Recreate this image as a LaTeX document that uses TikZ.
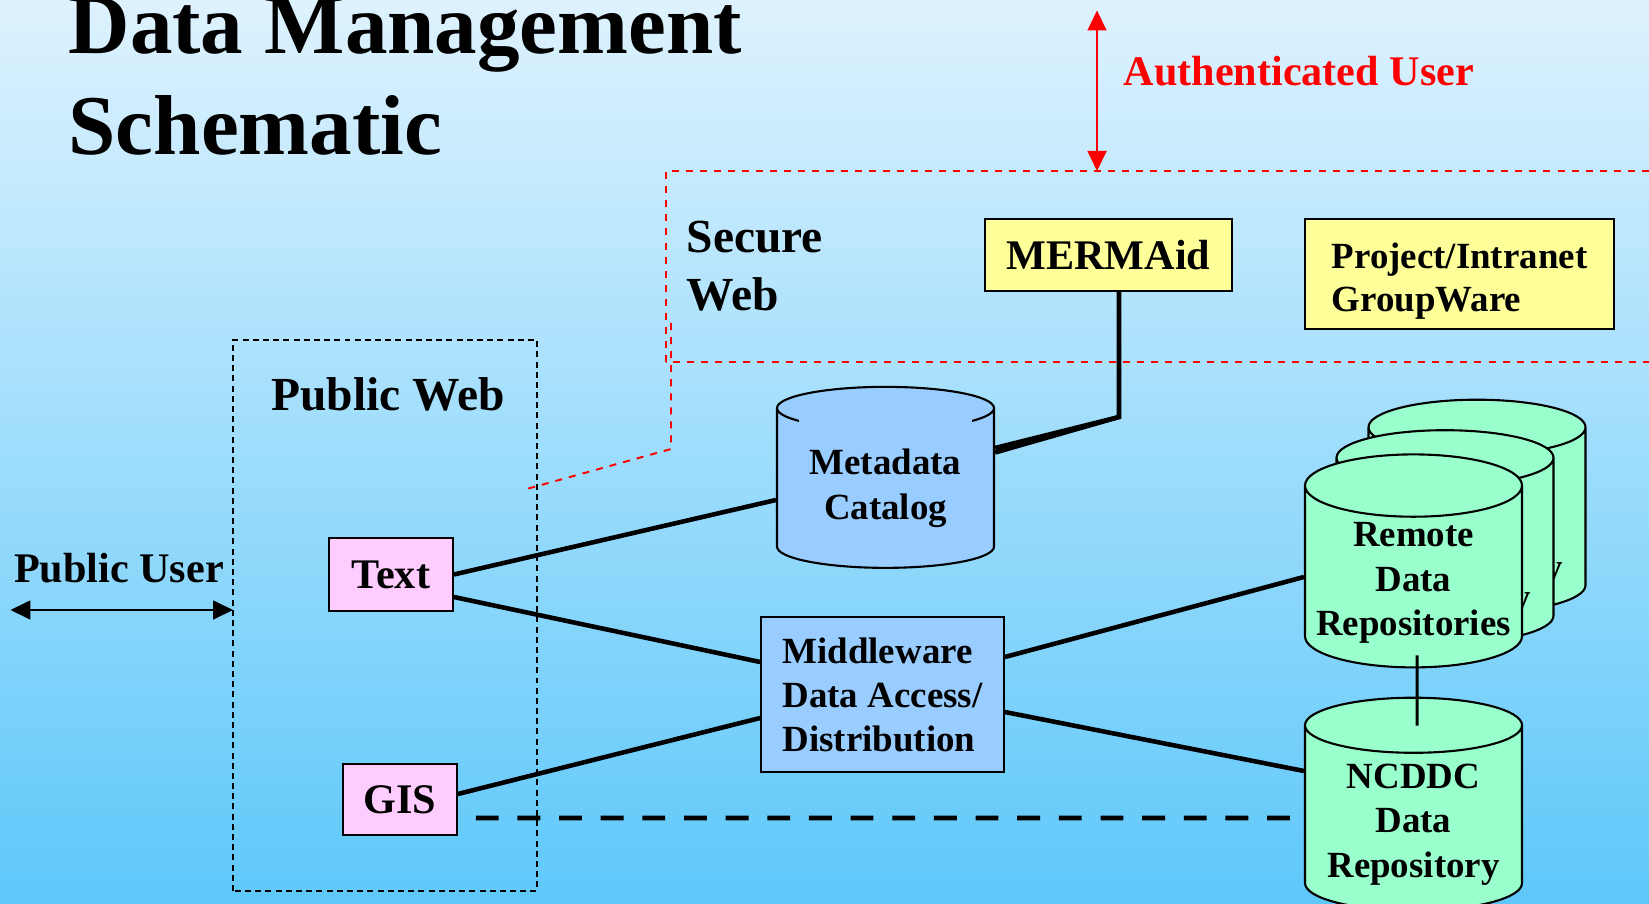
\documentclass[tikz,border=0pt]{standalone}
\usepackage{fontspec}
\setmainfont{Liberation Serif}
\usetikzlibrary{arrows.meta,shapes.geometric,calc}
\usepackage{xcolor}
\definecolor{skytop}{RGB}{222,242,254}
\definecolor{skybottom}{RGB}{94,200,250}
\definecolor{dbblue}{RGB}{153,204,255}
\definecolor{dbgreen}{RGB}{153,255,204}
\definecolor{notepink}{RGB}{255,204,255}
\definecolor{noteyellow}{RGB}{255,255,153}

\begin{document}
\begin{tikzpicture}

\tikzset{box/.style = {shape=rectangle,draw,line width=0.5pt,inner sep=0pt,font=\fontsize{12}{14}\selectfont\bfseries}}
\tikzset{webbox/.style = {box,fill=notepink}}
\tikzset{securebox/.style = {box,fill=noteyellow}}
\tikzset{store/.style = {cylinder,shape border rotate=90,draw,line width=0.6pt,inner sep=0pt,minimum width=2.17cm,align=center,font=\fontsize{10.5}{12.7}\selectfont\bfseries}}
\tikzset{repo/.style = {store,fill=dbgreen,inner ysep=-1.8mm,minimum height=2.13cm,aspect=0.32}}
\tikzset{header/.style = {inner sep=0pt,align=left,font=\fontsize{13.5}{16.5}\selectfont\bfseries}}
\tikzset{link/.style = {line width=1.3pt}}
\tikzset{gislink/.style = {line width=1.4pt,dash pattern=on 6.5pt off 5.35pt}}
\tikzset{zone/.style = {line width=0.45pt,dash pattern=on 1.7pt off 1.2pt}}
\tikzset{securezone/.style = {red,line width=0.55pt,dash pattern=on 2pt off 2pt}}
\tikzset{userlink/.style = {line width=0.5pt,{Triangle[length=0.2cm,width=0.19cm]}-{Triangle[length=0.2cm,width=0.19cm]}}}

\useasboundingbox (0,0) rectangle (16.49,9.03);
\shade[top color=skytop,bottom color=skybottom] (0,0) rectangle (16.49,9.03);

\node[header,anchor=north west,font=\fontsize{24.2}{28.7}\selectfont\bfseries] (title) at (0.68,9.055) {Data Management\\Schematic};
\node[anchor=base west,inner sep=0pt,text=red,font=\fontsize{12}{14}\selectfont\bfseries] (authuser) at (11.23,8.17) {Authenticated User};
\node[header,anchor=north west] (secureweb) at (6.86,6.83) {Secure\\Web};
\node[header,anchor=base] (publicweb) at (3.88,4.93) {Public Web};
\node[anchor=base,inner sep=0pt,font=\fontsize{12}{14}\selectfont\bfseries] (publicuser) at (1.19,3.21) {Public User};

\node[securebox,minimum width=2.47cm,minimum height=0.72cm] (mermaid) at (11.085,6.48) {MERMAid};
\node[securebox,minimum width=3.09cm,minimum height=1.10cm,align=left,font=\fontsize{10.5}{12.2}\selectfont\bfseries] (groupware) at (14.595,6.29) {\rule{0pt}{4mm}Project/Intranet\\GroupWare};
\node[webbox,minimum width=1.24cm,minimum height=0.73cm] (txt) at (3.91,3.285) {Text};
\node[webbox,minimum width=1.14cm,minimum height=0.71cm] (gis) at (4.00,1.035) {GIS};
\node[box,fill=dbblue,minimum width=2.43cm,minimum height=1.55cm,align=left,font=\fontsize{10.5}{12.5}\selectfont\bfseries] (middleware) at (8.825,2.085) {Middleware\\Data Access/\\Distribution};

\node[store,fill=dbblue,minimum height=1.81cm,aspect=0.28] (meta) at (8.855,4.145) {Metadata\\Catalog};
% label patch hides the middle of the front rim
\fill[dbblue] ($(meta.north)+(-0.865,-0.30)$) rectangle ($(meta.north)+(0.865,-0.46)$);
\node[repo] (remote3) at (14.77,3.825) {\rule{0pt}{3.65mm}Remote\\Data\\Repository};
\node[repo] (remote2) at (14.45,3.52) {\rule{0pt}{3.65mm}Remote\\Data\\Repository};
\node[repo] (remote) at (14.135,3.26) {\rule{0pt}{3.65mm}Remote\\Data\\Repositories};
\node[repo] (ncddc) at (14.135,0.845) {\rule{0pt}{3.65mm}NCDDC\\Data\\Repository};

\coordinate (authtop) at (10.97,8.925);
\coordinate (authbot) at (10.97,7.32);
\coordinate (userend) at (0.105,2.93);
\coordinate (zoneedge) at (2.33,2.93);
\coordinate (bend) at (11.19,4.86);

%edges
\draw[link] (txt.east) -- ([yshift=-1.15mm]meta.west);
\draw[link] ([yshift=-2.25mm]txt.east) -- ([yshift=3.25mm]middleware.west);
\draw[link] ([yshift=0.55mm]gis.east) -- ([yshift=-2.35mm]middleware.west);
\draw[link] ([yshift=3.75mm]middleware.east) -- (remote.west);
\draw[link] ([yshift=-1.75mm]middleware.east) -- ([yshift=4.75mm]ncddc.west);
\draw[gislink] ($(gis.east -| ncddc.west)+(-0.14,-0.185)$) -- ([yshift=-1.85mm]gis.east);
\draw[link] ([xshift=1.05mm]mermaid.south) -- (bend) -- ([yshift=4.05mm]meta.east);
\draw[link] (bend) -- ([yshift=3.6mm]meta.east);
\draw[line width=0.85pt] ([xshift=0.35mm,yshift=1.3mm]remote.south) -- ([xshift=0.35mm,yshift=-2.9mm]ncddc.north);
\draw[userlink] (userend) -- (zoneedge);
\draw[userlink,red] (authtop) -- (authbot);

%zones
\draw[zone] (2.33,0.12) rectangle (5.37,5.63);
\draw[securezone] (6.66,5.41) rectangle (16.7,7.32);
\draw[securezone] (6.71,5.80) -- (6.71,4.54) -- (5.23,4.13);
\end{tikzpicture}
\end{document}
